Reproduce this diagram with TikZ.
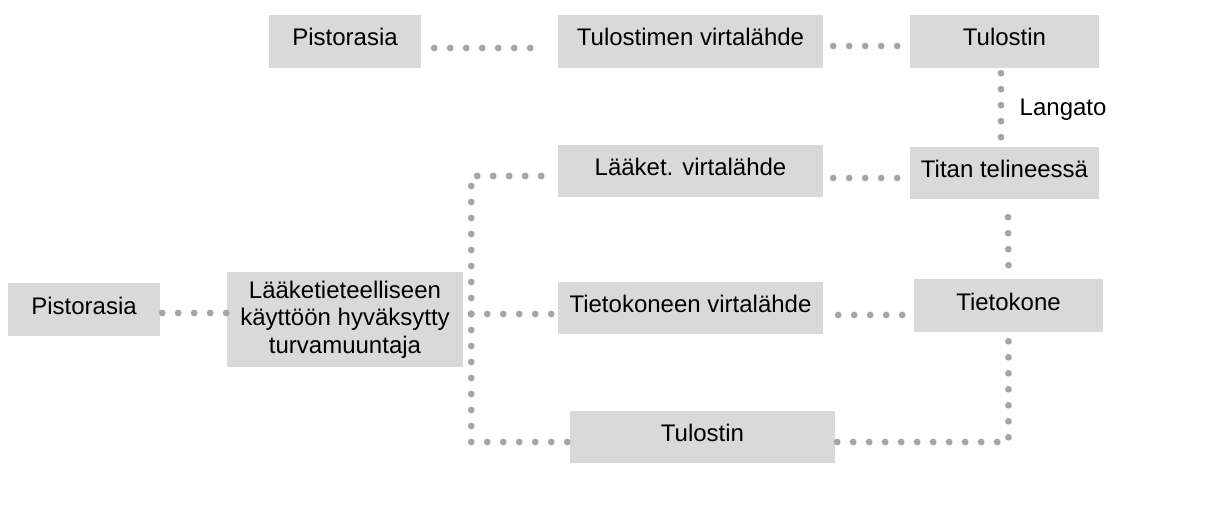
\documentclass[tikz,border=0pt]{standalone}
\usepackage{fontspec}
\setmainfont{Liberation Sans}
\usetikzlibrary{calc}
\definecolor{boxgray}{HTML}{D9D9D9}
\definecolor{dotgray}{HTML}{A6A6A6}

\begin{document}
\begin{tikzpicture}[x=1pt, y=-1pt, font=\fontsize{24}{27.5}\selectfont,
        box/.style={fill=boxgray, inner sep=0pt},
        sbox/.style={box, minimum height=53pt, text height=17pt, text depth=8pt},
        dotline/.style={draw=dotgray, line width=6.8pt, line cap=round, dash pattern=on 0pt off 16pt}]
                        \useasboundingbox (0,0) rectangle (1228,521);
                        \node[sbox, minimum width=152pt] (pistT) at (345,41.5) {Pistorasia};
                        \node[sbox, minimum width=265pt] (virtT) at (690.5,41.5) {Tulostimen virtalähde};
                        \node[sbox, minimum width=189pt] (tulT) at (1004.5,41.5) {Tulostin};
                        \node[sbox, minimum width=265pt, minimum height=52pt] (virtL) at (690.5,171) {Lääket. virtalähde};
                        \node[sbox, minimum width=189pt, minimum height=52pt] (titan) at (1004.5,173) {Titan telineessä};
                        \node[sbox, minimum width=265pt, minimum height=52pt] (virtC) at (690.5,308) {Tietokoneen virtalähde};
                        \node[sbox, minimum width=189pt] (comp) at (1008.5,305.5) {Tietokone};
                        \node[sbox, minimum width=152pt] (pistL) at (84,309.5) {Pistorasia};
                        \node[box, minimum width=236pt, minimum height=95pt, align=center] (ups) at (345,319.5) {Lääketieteelliseen\\käyttöön hyväksytty\\turvamuuntaja};
                        \node[sbox, minimum width=265pt, minimum height=52pt] (tulB) at (702.5,437) {Tulostin};
                        \coordinate (jn) at ($(ups.east)+(8,-5.5)$);
			\draw[dotline] ($(pistT.east)+(13,6.5)$) -- ($(virtT.west)+(-25.5,6.5)$);
			\draw[dotline] ($(virtT.east)+(10,4.5)$) -- ($(tulT.west)+(-10.5,4.5)$);
			\draw[dotline] ($(tulT.south)+(-3.5,5)$) -- node[midway, right=12pt, yshift=-4pt] (lang) {Langato} ($(titan.north)+(-3.5,-9.5)$);
			\draw[dotline] ($(virtL.east)+(10,7)$) -- ($(titan.west)+(-10.5,5)$);
			\draw[dotline] ($(titan.south)+(3.5,18)$) -- ($(comp.north)+(0,-10.5)$);
			\draw[dotline] ($(virtC.east)+(15,7)$) -- ($(comp.west)+(-9.5,9.5)$);
			\draw[dotline] ($(pistL.east)+(2,3.5)$) -- ($(ups.west)+(0.5,-6.5)$);
			\draw[dotline] (jn) |- ($(virtL.west)+(-1,5)$);
			\draw[dotline] (jn) -- ($(virtC.west)+(-5.5,6)$);
			\draw[dotline] (jn) |- ($(tulB.west)+(0,5)$);
			\draw[dotline] ($(tulB.east)+(2,5)$) -| ($(comp.south)+(0,5)$);
                \end{tikzpicture}
\end{document}
